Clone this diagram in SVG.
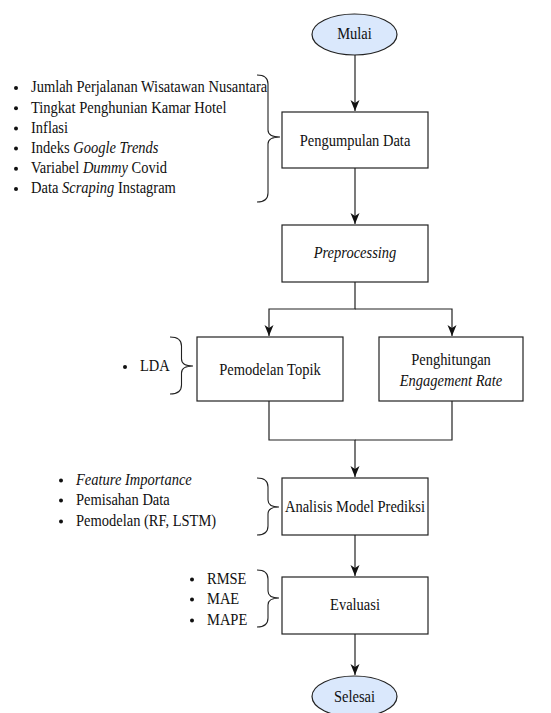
<svg xmlns="http://www.w3.org/2000/svg" width="551" height="713" viewBox="0 0 551 713">
<style>
text{font-family:"Liberation Serif","Times New Roman",serif;font-size:14.5px;fill:#111}
.c{text-anchor:middle}
.i{font-style:italic}
.box{fill:#fff;stroke:#222;stroke-width:1.2}
.term{fill:#dae8fc;stroke:#222;stroke-width:1.2}
.edge{fill:none;stroke:#222;stroke-width:1.2}
.brace{fill:none;stroke:#222;stroke-width:1.1}
.dot{fill:#111}
</style>
<defs>
<marker id="arr" markerUnits="userSpaceOnUse" markerWidth="12" markerHeight="10" viewBox="0 0 12 10" refX="11" refY="5" orient="auto">
<path d="M0,0.5 L11,5 L0,9.5 L3,5 Z" fill="#111"/>
</marker>
</defs>
<g id="connectors">
<path class="edge" d="M355,55 V111" marker-end="url(#arr)"/>
<path class="edge" d="M355,168 V224" marker-end="url(#arr)"/>
<path class="edge" d="M355,282 V309 H269 V336" marker-end="url(#arr)"/>
<path class="edge" d="M355,309 H452 V336" marker-end="url(#arr)"/>
<path class="edge" d="M269,401 V440 H355 V477" marker-end="url(#arr)"/>
<path class="edge" d="M452,401 V440 H355"/>
<path class="edge" d="M355,535 V576" marker-end="url(#arr)"/>
<path class="edge" d="M355,634 V675" marker-end="url(#arr)"/>
</g>
<g id="mulai">
<ellipse class="term" cx="354.5" cy="34.5" rx="42.5" ry="20.5"/>
<text class="c" x="354.5" y="39.5" transform="translate(0,-3.95) scale(1,1.1)">Mulai</text>
</g>
<g id="pengumpulan">
<rect class="box" x="282" y="112" width="146" height="56"/>
<text class="c" x="355" y="146" transform="translate(0,-14.6) scale(1,1.1)">Pengumpulan Data</text>
</g>
<g id="list-data">
<path class="brace" d="M257,75 Q268,75 268,84 L268,130 Q268,137 280,137 Q268,137 268,144 L268,193 Q268,202 257,202"/>
<circle class="dot" cx="16" cy="88" r="2"/>
<circle class="dot" cx="16" cy="108.2" r="2"/>
<circle class="dot" cx="16" cy="128.4" r="2"/>
<circle class="dot" cx="16" cy="148.6" r="2"/>
<circle class="dot" cx="16" cy="168.8" r="2"/>
<circle class="dot" cx="16" cy="189" r="2"/>
<text x="31" y="92.5" transform="translate(0,-9.25) scale(1,1.1)">Jumlah Perjalanan Wisatawan Nusantara</text>
<text x="31" y="112.7" transform="translate(0,-11.27) scale(1,1.1)">Tingkat Penghunian Kamar Hotel</text>
<text x="31" y="132.9" transform="translate(0,-13.29) scale(1,1.1)">Inflasi</text>
<text x="31" y="153.1" transform="translate(0,-15.31) scale(1,1.1)">Indeks <tspan class="i">Google Trends</tspan></text>
<text x="31" y="173.3" transform="translate(0,-17.33) scale(1,1.1)">Variabel <tspan class="i">Dummy</tspan> Covid</text>
<text x="31" y="193.5" transform="translate(0,-19.35) scale(1,1.1)">Data <tspan class="i">Scraping</tspan> Instagram</text>
</g>
<g id="preprocessing">
<rect class="box" x="282" y="225" width="146" height="57"/>
<text class="c i" x="355" y="258" transform="translate(0,-25.8) scale(1,1.1)">Preprocessing</text>
</g>
<g id="pemodelan-topik">
<rect class="box" x="197" y="337" width="146" height="64"/>
<text class="c" x="270" y="375" transform="translate(0,-37.5) scale(1,1.1)">Pemodelan Topik</text>
</g>
<g id="list-lda">
<path class="brace" d="M170,337 Q181.5,337 181.5,346 L181.5,359 Q181.5,366 193,366 Q181.5,366 181.5,373 L181.5,385 Q181.5,394 170,394"/>
<circle class="dot" cx="125" cy="367" r="2"/>
<text x="140" y="371.5" transform="translate(0,-37.15) scale(1,1.1)">LDA</text>
</g>
<g id="engagement">
<rect class="box" x="379" y="337" width="144" height="64"/>
<text class="c" x="451" y="365" transform="translate(0,-36.5) scale(1,1.1)">Penghitungan</text>
<text class="c i" x="451" y="386.5" transform="translate(0,-38.65) scale(1,1.1)">Engagement Rate</text>
</g>
<g id="analisis">
<rect class="box" x="282" y="478" width="146" height="57"/>
<text class="c" x="355" y="512.5" transform="translate(0,-51.25) scale(1,1.1)">Analisis Model Prediksi</text>
</g>
<g id="list-analisis">
<path class="brace" d="M257,478 Q268,478 268,487 L268,500 Q268,507 279,507 Q268,507 268,514 L268,526 Q268,535 257,535"/>
<circle class="dot" cx="61" cy="480.5" r="2"/>
<circle class="dot" cx="61" cy="500.5" r="2"/>
<circle class="dot" cx="61" cy="521.5" r="2"/>
<text class="i" x="76" y="485" transform="translate(0,-48.5) scale(1,1.1)">Feature Importance</text>
<text x="76" y="505" transform="translate(0,-50.5) scale(1,1.1)">Pemisahan Data</text>
<text x="76" y="526" transform="translate(0,-52.6) scale(1,1.1)">Pemodelan (RF, LSTM)</text>
</g>
<g id="evaluasi">
<rect class="box" x="282" y="577" width="146" height="57"/>
<text class="c" x="355" y="610.5" transform="translate(0,-61.05) scale(1,1.1)">Evaluasi</text>
</g>
<g id="list-evaluasi">
<path class="brace" d="M257,570 Q268,570 268,579 L268,591 Q268,598 279,598 Q268,598 268,605 L268,618 Q268,627 257,627"/>
<circle class="dot" cx="192" cy="579.5" r="2"/>
<circle class="dot" cx="192" cy="599.5" r="2"/>
<circle class="dot" cx="192" cy="620.5" r="2"/>
<text x="207" y="584" transform="translate(0,-58.4) scale(1,1.1)">RMSE</text>
<text x="207" y="604" transform="translate(0,-60.4) scale(1,1.1)">MAE</text>
<text x="207" y="625" transform="translate(0,-62.5) scale(1,1.1)">MAPE</text>
</g>
<g id="selesai">
<ellipse class="term" cx="354.5" cy="696.5" rx="42.5" ry="20.5"/>
<text class="c" x="354.5" y="702.5" transform="translate(0,-70.25) scale(1,1.1)">Selesai</text>
</g>
</svg>
